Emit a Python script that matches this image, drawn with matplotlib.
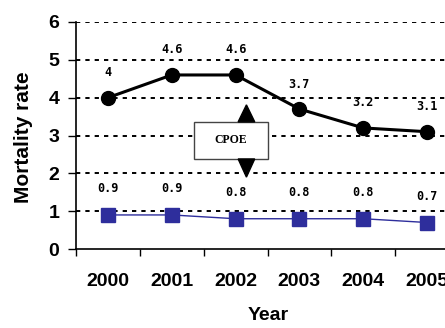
import matplotlib
matplotlib.use("Agg")
import matplotlib.pyplot as plt
from matplotlib.patches import Rectangle, FancyArrow

years = ["2000", "2001", "2002", "2003", "2004", "2005"]
upper = [4, 4.6, 4.6, 3.7, 3.2, 3.1]
lower = [0.9, 0.9, 0.8, 0.8, 0.8, 0.7]
upper_labels = ["4", "4.6", "4.6", "3.7", "3.2", "3.1"]
lower_labels = ["0.9", "0.9", "0.8", "0.8", "0.8", "0.7"]
yticks = [0, 1, 2, 3, 4, 5, 6]

plt.rcParams['font.family'] = ['Liberation Sans', 'DejaVu Sans']
fig = plt.figure(figsize=(4.45, 3.28), dpi=100)
ax = fig.add_axes([76/445, 1-249/328, 383/445, (249-22)/328])

x = list(range(len(years)))
for yv in yticks[1:]:
    ax.axhline(yv, color='black', lw=1.4, ls=(0, (2.2, 2.6)), zorder=1)

ax.plot(x, upper, color='black', lw=2.2, marker='o', ms=10, zorder=3)
ax.plot(x, lower, color='#2e2e9c', lw=1.0, marker='s', ms=10, zorder=3)

for xi, v, t in zip(x, upper, upper_labels):
    ax.annotate(t, (xi, v), xytext=(0, 18), textcoords='offset points',
                ha='center', va='center', fontsize=8.5, fontweight='bold',
                family=['DejaVu Sans Mono'])
for xi, v, t in zip(x, lower, lower_labels):
    ax.annotate(t, (xi, v), xytext=(0, 19), textcoords='offset points',
                ha='center', va='center', fontsize=8.5, fontweight='bold',
                family=['DejaVu Sans Mono'])

# CPOE box with arrows
ax.add_patch(Rectangle((1.35, 2.38), 1.16, 0.98, facecolor='white',
                       edgecolor='#444444', lw=1.0, zorder=4))
ax.text(1.93, 2.87, "CPOE", ha='center', va='center', fontsize=8.5,
        fontweight='bold', family=['Liberation Serif'], zorder=5)
ax.add_patch(FancyArrow(2.17, 3.36, 0, 0.45, width=0.0, head_width=0.26,
                        head_length=0.45, length_includes_head=True,
                        color='black', zorder=5))
ax.add_patch(FancyArrow(2.17, 2.38, 0, -0.48, width=0.0, head_width=0.26,
                        head_length=0.48, length_includes_head=True,
                        color='black', zorder=5))

ax.set_xlim(-0.5, 5.5)
ax.set_ylim(0, 6)
ax.set_xticks(x)
ax.set_xticklabels(years, fontsize=14, fontweight='bold')
ax.set_xticks([i - 0.5 for i in range(len(years) + 1)], minor=True)
ax.tick_params(axis='x', which='major', length=0, pad=17)
ax.tick_params(axis='x', which='minor', length=5, width=1)
ax.set_yticks(yticks)
ax.set_yticklabels([str(v) for v in yticks], fontsize=14, fontweight='bold')
ax.tick_params(axis='y', length=6, width=1, pad=6)
for s in ['top', 'right']:
    ax.spines[s].set_visible(False)
ax.spines['left'].set_linewidth(1.2)
ax.spines['bottom'].set_linewidth(1.2)
ax.set_xlabel("Year", fontsize=14, fontweight='bold')
ax.set_ylabel("Mortality rate", fontsize=15, fontweight='bold')
ax.xaxis.set_label_coords((268-76)/383, -(307-249)/227)
ax.yaxis.set_label_coords((33-76)/383, (249-137)/227)

fig.savefig("out.png", dpi=100)
